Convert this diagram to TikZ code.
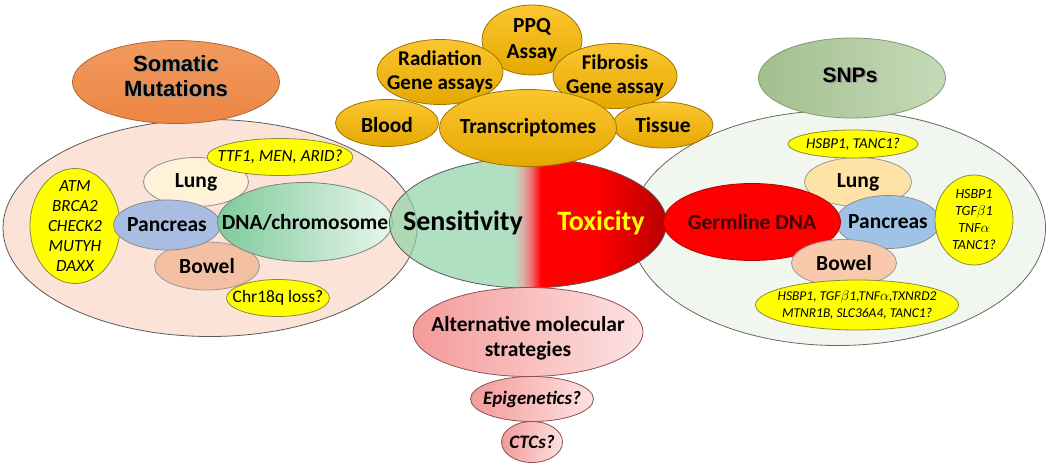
\documentclass[tikz,border=0pt]{standalone}
\usepackage{fontspec}
\setmainfont{Carlito}
\newfontfamily\arialfont{Liberation Sans}
\usetikzlibrary{shapes.geometric}

\definecolor{peach}{HTML}{FBE4D7}
\definecolor{mint}{HTML}{F1F6EE}
\definecolor{somT}{HTML}{F19A5E}
\definecolor{somM}{HTML}{E8762C}
\definecolor{somB}{HTML}{EC8644}
\definecolor{somline}{HTML}{B3632E}
\definecolor{snpL}{HTML}{A2BF8E}
\definecolor{snpR}{HTML}{C6DAB8}
\definecolor{snpline}{HTML}{7E9A70}
\definecolor{yel}{HTML}{FFFF00}
\definecolor{yelline}{HTML}{8A8A3A}
\definecolor{lungL}{HTML}{FFF2D8}
\definecolor{pancL}{HTML}{A9BDE3}
\definecolor{bowelL}{HTML}{F3C0A3}
\definecolor{dnaL}{HTML}{7ECB9A}
\definecolor{dnaR}{HTML}{E9F6ED}
\definecolor{lungR}{HTML}{FFE2A6}
\definecolor{pancR}{HTML}{9FC3E6}
\definecolor{bowelR}{HTML}{F8CAAB}
\definecolor{germ}{HTML}{FF0000}
\definecolor{germline}{HTML}{B00000}
\definecolor{germtext}{HTML}{3D0000}
\definecolor{sensbase}{HTML}{8FD3A6}
\definecolor{sensgreen}{HTML}{B1E0C1}
\definecolor{sensmix}{HTML}{D9B4AA}
\definecolor{toxlight}{HTML}{EE7070}
\definecolor{toxred}{HTML}{FF0000}
\definecolor{toxdark}{HTML}{B80000}
\definecolor{goldT}{HTML}{FBC630}
\definecolor{goldB}{HTML}{E5A800}
\definecolor{goldline}{HTML}{9C7400}
\definecolor{altL}{HTML}{F49A9A}
\definecolor{altR}{HTML}{FDE2E2}
\definecolor{altline}{HTML}{8C5050}

\pgfdeclarehorizontalshading{toxshade}{100bp}{color(0bp)=(sensgreen); color(25bp)=(sensgreen);
  color(28bp)=(sensmix); color(31bp)=(toxlight); color(34bp)=(toxred); color(52bp)=(toxred);
  color(75bp)=(toxdark); color(100bp)=(toxdark)}

\tikzset{
  blob/.style={ellipse, inner sep=0pt, draw=black!55, line width=0.8pt},
  yellowblob/.style={fill=yel, draw=yelline},
  goldblob/.style={top color=goldT, bottom color=goldB, draw=goldline},
  pinkblob/.style={left color=altL, right color=altR, draw=altline},
  organ/.style={font=\bfseries\fontsize{21.5}{24}\selectfont, align=center},
  gene/.style={font=\itshape\fontsize{17}{20}\selectfont, align=center},
  snpgene/.style={font=\itshape\fontsize{14}{17}\selectfont, align=center},
  title/.style={font=\arialfont\bfseries\fontsize{22}{25}\selectfont, align=center},
  big/.style={font=\bfseries\fontsize{28}{32}\selectfont}
}

% name, centre, width, height, shape style, text style, text
\newcommand{\drawblob}[7]{
  \node[blob, minimum width=#3, minimum height=#4, #5] (#1) at (#2) {};
  \node[#6] (#1-t) at (#1) {#7};
}

\begin{document}
\begin{tikzpicture}[x=1pt,y=-1pt]
  \useasboundingbox (0,0) rectangle (1050,471);

  \node[blob, minimum width=414, minimum height=217, fill=peach, draw=black!65] (bigL) at (210,228) {};
  \node[blob, minimum width=415, minimum height=235, fill=mint, draw=black!60] (bigR) at (838,228) {};

  \node[blob, minimum width=207, minimum height=83, top color=somT, middle color=somM,
    bottom color=somB, draw=somline] (somatic) at (176,82) {};
  \node[title, text=black!40, xshift=1.5pt, yshift=-1.5pt] (somatic-s) at (176,76) {Somatic\\Mutations};
  \node[title] (somatic-t) at (176,76) {Somatic\\Mutations};

  \node[blob, minimum width=187, minimum height=80, left color=snpL, right color=snpR,
    draw=snpline] (snps) at (852,78) {};
  \node[title, font=\arialfont\bfseries\fontsize{21}{24}\selectfont, text=black!40,
    xshift=1.5pt, yshift=-1.5pt] (snps-s) at (850,75) {SNPs};
  \node[title, font=\arialfont\bfseries\fontsize{21}{24}\selectfont] (snps-t) at (850,75) {SNPs};

  % somatic side
  \drawblob{atm}{75,226}{90}{115}{yellowblob}{gene}{ATM\\BRCA2\\CHECK2\\MUTYH\\DAXX}
  \drawblob{lungL}{196,182}{105}{49}{fill=lungL, draw=black!45}{organ}{Lung}
  \drawblob{bowelL}{207,266}{105}{48}{fill=bowelL, draw=black!40}{organ}{Bowel}
  \drawblob{pancL}{167,225}{107}{50}{fill=pancL, draw=black!45}{organ}{Pancreas}
  \drawblob{dna}{305,222}{175}{79}{left color=dnaL, right color=dnaR, draw=black!50}{organ}{DNA/chromosome}
  \drawblob{ttf}{280,157}{146}{37}{yellowblob}{gene}{TTF1, MEN, ARID?}
  \drawblob{chr}{278,298}{103}{37}{yellowblob}{gene, font=\fontsize{17.5}{20}\selectfont}{Chr18q loss?}

  % centre
  \node[blob, minimum width=277, minimum height=130, draw=black!65,
    path picture={
      \fill[sensbase, fill opacity=0.7] (path picture bounding box.south west)
        rectangle ([xshift=-15pt]path picture bounding box.north);
      \shade[shading=toxshade] ([xshift=-15pt]path picture bounding box.south)
        rectangle (path picture bounding box.north east);
    }] (sens) at (528,223) {};
  \node[big] (sens-t) at (463,223) {Sensitivity};
  \node[big, text=yel] (tox-t) at (601,223) {Toxicity};

  % germline side
  \drawblob{lungR}{858,182}{107}{49}{fill=lungR, draw=black!40}{organ}{Lung}
  \drawblob{pancR}{888,222}{104}{53}{fill=pancR, draw=black!45}{organ}{Pancreas}
  \drawblob{germ}{752,222}{177}{77}{fill=germ, draw=germline}{organ, text=germtext}{Germline DNA}
  \drawblob{bowelR}{844,263}{105}{47}{fill=bowelR, draw=black!40}{organ}{Bowel}
  \drawblob{hsbpT}{853,144}{130}{28}{yellowblob}{snpgene, font=\itshape\fontsize{15}{17}\selectfont}{HSBP1, TANC1?}
  \drawblob{hsbpP}{974,220}{78}{90}{yellowblob}{snpgene}{HSBP1\\TGF$\beta$1\\TNF$\alpha$\\TANC1?}
  \drawblob{hsbpB}{857,305}{203}{50}{yellowblob}{snpgene, font=\itshape\fontsize{13.5}{16.5}\selectfont}{HSBP1, TGF$\beta$1,TNF$\alpha$,TXNRD2\\MTNR1B, SLC36A4, TANC1?}

  % assays
  \drawblob{ppq}{532,40}{100}{70}{goldblob}{organ, font=\bfseries\fontsize{21.5}{26}\selectfont}{PPQ\\Assay}
  \drawblob{rad}{440,72}{126}{65}{goldblob}{organ, font=\bfseries\fontsize{21}{23.5}\selectfont}{Radiation\\Gene assays}
  \drawblob{fib}{615,76}{124}{65}{goldblob}{organ, font=\bfseries\fontsize{21}{23.5}\selectfont}{Fibrosis\\Gene assay}
  \drawblob{blood}{387,123}{103}{47}{goldblob}{organ, yshift=-2pt}{Blood}
  \drawblob{tissue}{663,125}{100}{46}{goldblob}{organ}{Tissue}
  \drawblob{trans}{528,128}{177}{77}{goldblob}{organ}{Transcriptomes}

  % other strategies
  \drawblob{alt}{528,332}{230}{89}{pinkblob}{organ, yshift=-6pt, font=\bfseries\fontsize{21.5}{25}\selectfont}{Alternative molecular\\strategies}
  \drawblob{epi}{532,399}{123}{45}{pinkblob}{font=\bfseries\itshape\fontsize{19}{22}\selectfont}{Epigenetics?}
  \drawblob{ctc}{532,442}{61}{41}{pinkblob}{font=\bfseries\itshape\fontsize{19}{22}\selectfont}{CTCs?}
\end{tikzpicture}
\end{document}
